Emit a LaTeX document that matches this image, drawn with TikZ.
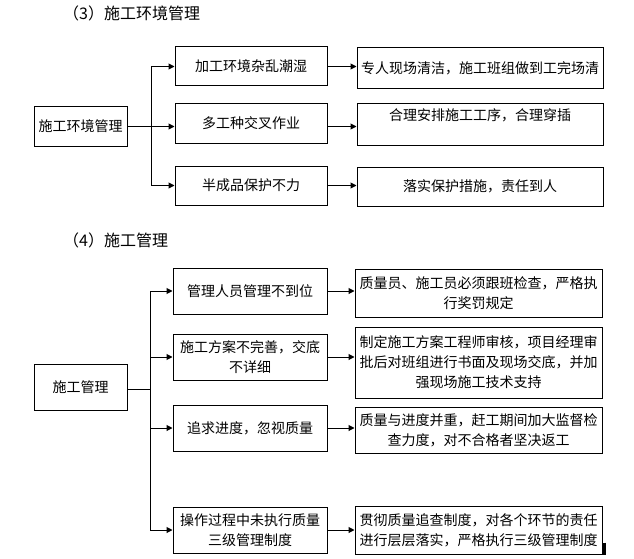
\documentclass[tikz,border=0pt]{standalone}
\usepackage{fontspec}
\setmainfont{Noto Sans CJK SC}
\usepackage{tikz}
\usetikzlibrary{arrows.meta}
\tikzset{
  box/.style={draw=black, line width=1pt, inner sep=0pt, align=center,
    font=\fontsize{14}{20}\selectfont},
  arr/.style={line width=1pt, -{Triangle[length=6pt,width=6pt]}},
  link/.style={line width=1pt},
  title/.style={anchor=west, inner sep=0pt, font=\fontsize{16}{20}\selectfont}
}
\begin{document}
\begin{tikzpicture}[x=1pt,y=-1pt]
    \useasboundingbox (0,0) rectangle (634,559);
    \node[title] (t3) at (63,13) {（3）施工环境管理};
    \node[box, minimum width=93pt, minimum height=39pt] (env) at (80.5,126.5) {施工环境管理};
    \node[box, minimum width=152pt, minimum height=39pt] (a1) at (251,66.5) {加工环境杂乱潮湿};
    \node[box, minimum width=152pt, minimum height=39pt] (a2) at (251,123.5) {多工种交叉作业};
    \node[box, minimum width=152pt, minimum height=39pt] (a3) at (251,185.5) {半成品保护不力};
    \node[box, minimum width=246pt, minimum height=41pt] (b1) at (480,68.5) {专人现场清洁，施工班组做到工完场清};
    \node[box, minimum width=246pt, minimum height=41pt] (b2) at (480,124.5) {合理安排施工工序，合理穿插\\ ~};
    \node[box, minimum width=246pt, minimum height=39pt] (b3) at (480,186.5) {落实保护措施，责任到人};
    \coordinate (j3) at (151,126.5);
    \draw[link] (env.east) -- (j3);
    \draw[link] (j3 |- a1.west) -- (j3 |- a3.west);
    \draw[arr] (j3 |- a1.west) -- (a1.west);
    \draw[arr] (j3) -- (a2.west |- j3);
    \draw[arr] (j3 |- a3.west) -- (a3.west);
    \draw[arr] (a1.east) -- (b1.west |- a1.east);
    \draw[arr] (a2.east |- j3) -- (b2.west |- j3);
    \draw[arr] (a3.east) -- (b3.west |- a3.east);

    \node[title] (t4) at (63,240) {（4）施工管理};
    \node[box, minimum width=93pt, minimum height=46pt] (mgr) at (80.5,387) {施工管理};
    \node[box, minimum width=154pt, minimum height=46pt] (c1) at (250,291) {管理人员管理不到位};
    \node[box, minimum width=154pt, minimum height=46pt] (c2) at (250,357) {施工方案不完善，交底\\不详细};
    \node[box, minimum width=154pt, minimum height=46pt] (c3) at (250,428) {追求进度，忽视质量};
    \node[box, minimum width=154pt, minimum height=46pt] (c4) at (250,530) {操作过程中未执行质量\\三级管理制度};
    \node[box, minimum width=247pt, minimum height=48pt] (d1) at (478.5,293) {质量员、施工员必须跟班检查，严格执\\行奖罚规定};
    \node[box, minimum width=247pt, minimum height=71pt] (d2) at (478.5,362.5) {制定施工方案工程师审核，项目经理审\\批后对班组进行书面及现场交底，并加\\强现场施工技术支持};
    \node[box, minimum width=247pt, minimum height=46pt] (d3) at (478.5,430) {质量与进度并重，赶工期间加大监督检\\查力度，对不合格者坚决返工};
    \node[box, minimum width=247pt, minimum height=48pt] (d4) at (478.5,530) {贯彻质量追查制度，对各个环节的责任\\进行层层落实，严格执行三级管理制度};
    \coordinate (j4) at (150,389);
    \draw[link] (mgr.east |- j4) -- (j4);
    \draw[link] (j4 |- c1.west) -- (j4 |- c4.west);
    \draw[arr] (j4 |- c1.west) -- (c1.west);
    \draw[arr] (j4 |- c2.west) -- (c2.west);
    \draw[arr] (j4 |- c3.west) -- (c3.west);
    \draw[arr] (j4 |- c4.west) -- (c4.west);
    \draw[arr] (c1.east) -- (d1.west |- c1.east);
    \draw[arr] (c2.east) -- (d2.west |- c2.east);
    \draw[arr] (c3.east) -- (d3.west |- c3.east);
    \draw[arr] (c4.east) -- (d4.west |- c4.east);
    \draw[line width=3pt] ([xshift=2pt,yshift=12pt]d4.south east) -- ([xshift=2pt]d4.south east);
\end{tikzpicture}
\end{document}
